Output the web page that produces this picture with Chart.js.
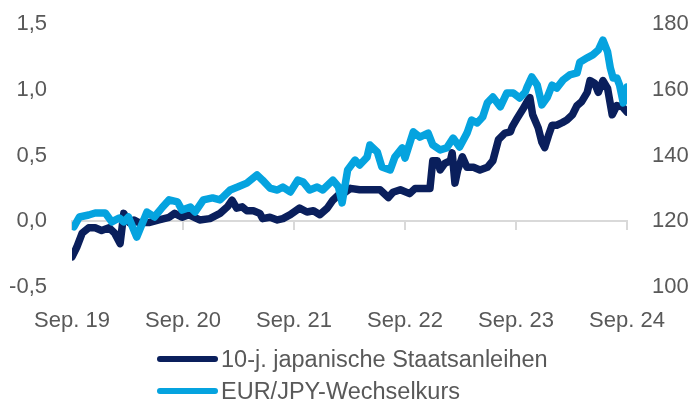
<!DOCTYPE html>
<html>
<head>
<meta charset="utf-8">
<script src="https://cdn.jsdelivr.net/npm/chart.js@4.4.1/dist/chart.umd.min.js"></script>
<style>
  html, body { margin: 0; padding: 0; background: #fff; }
  #wrap { position: relative; width: 694px; height: 403px; }
  #legend { position: absolute; left: 157px; top: 343px; font-family: "Liberation Sans", Arial, sans-serif; font-size: 23.5px; color: #595959; }
  .item { display: flex; align-items: center; height: 32px; }
  .swatch { width: 61px; height: 6px; border-radius: 3px; margin-right: 3px; }
</style>
</head>
<body>
<div id="wrap">
  <canvas id="chart" width="694" height="403"></canvas>
  <div id="legend"></div>
</div>
<script>
'use strict';

// x positions are months since Sep. 2019
const tickLabels = ['Sep. 19', 'Sep. 20', 'Sep. 21', 'Sep. 22', 'Sep. 23', 'Sep. 24'];

const jgbLabel = '10-j. japanische Staatsanleihen';
const jgbMonths = [0, 0.5, 1.1, 1.8, 2.5, 3.2, 4.0, 4.6, 5.2, 5.6, 6.2, 6.7, 7.2, 8.3, 9.4, 10.5, 11.1, 11.9, 12.6, 13.8,
    14.9, 16.0, 16.8, 17.3, 17.8, 18.4, 18.9, 19.6, 20.3, 20.6, 21.4, 22.2, 22.8, 23.6, 24.6, 25.4, 26.1, 26.8, 27.6, 28.2,
    28.8, 29.5, 30.1, 31.1, 32.2, 33.3, 34.2, 34.7, 35.5, 36.5, 37.1, 38.7, 38.9, 39.0, 39.5, 39.8, 40.3, 40.9, 41.1, 41.4,
    41.7, 42.2, 42.7, 43.4, 44.1, 44.9, 45.5, 46.1, 46.8, 47.4, 47.6, 48.1, 48.8, 49.3, 49.5, 49.8, 50.4, 50.8, 51.1, 51.5,
    51.9, 52.4, 53.0, 53.5, 54.1, 54.6, 55.1, 55.7, 56.0, 56.5, 56.9, 57.4, 57.9, 58.4, 58.9, 59.5, 60.0];
const jgbValues = [-0.27, -0.20, -0.09, -0.05, -0.05, -0.07, -0.05, -0.09, -0.17, 0.06, -0.01, 0.01, -0.01, -0.01, 0.01, 0.03, 0.06, 0.03, 0.05, 0.01,
    0.02, 0.06, 0.11, 0.16, 0.10, 0.11, 0.08, 0.08, 0.06, 0.02, 0.03, 0.01, 0.02, 0.05, 0.10, 0.07, 0.08, 0.05, 0.10, 0.16,
    0.20, 0.22, 0.25, 0.24, 0.24, 0.24, 0.18, 0.22, 0.24, 0.21, 0.25, 0.25, 0.39, 0.46, 0.46, 0.39, 0.44, 0.46, 0.52, 0.29,
    0.39, 0.49, 0.41, 0.41, 0.39, 0.41, 0.46, 0.62, 0.67, 0.68, 0.72, 0.78, 0.86, 0.92, 0.94, 0.81, 0.71, 0.60, 0.56, 0.65,
    0.73, 0.73, 0.75, 0.77, 0.81, 0.88, 0.91, 0.98, 1.07, 1.05, 0.98, 1.07, 1.01, 0.81, 0.88, 0.87, 0.83];

const fxLabel = 'EUR/JPY-Wechselkurs';
const fxMonths = [0.2, 0.8, 1.8, 2.5, 3.6, 4.3, 5.1, 5.6, 6.1, 7.0, 8.1, 8.9, 9.7, 10.5, 11.4, 11.9, 12.8, 13.3, 14.2, 15.2,
    16.0, 17.1, 17.9, 18.9, 20.0, 20.6, 21.4, 22.2, 22.8, 23.6, 24.4, 25.0, 25.7, 26.5, 27.1, 28.2, 28.8, 29.2, 29.8, 30.6,
    31.1, 31.9, 32.2, 33.0, 33.5, 34.4, 34.9, 35.7, 36.0, 36.9, 37.6, 38.5, 39.0, 39.8, 40.5, 41.2, 41.9, 42.7, 43.2, 43.8,
    44.4, 44.9, 45.5, 46.3, 47.0, 47.7, 48.4, 49.0, 49.2, 49.7, 50.3, 50.8, 51.4, 51.9, 52.4, 53.1, 53.8, 54.6, 54.9, 55.7,
    56.3, 56.9, 57.4, 57.9, 58.2, 58.5, 58.9, 59.2, 59.6, 60.0];
const fxValues = [118.3, 121.3, 121.9, 122.5, 122.5, 119.8, 121.0, 119.8, 121.3, 115.2, 122.8, 121.3, 124.0, 126.5, 125.9, 123.4, 124.3, 122.8, 126.5, 127.1,
    126.5, 129.5, 130.4, 131.6, 134.1, 132.5, 130.1, 129.5, 130.4, 128.9, 132.5, 131.9, 129.5, 130.4, 129.5, 132.5, 130.5, 125.6, 135.6, 138.6,
    137.1, 139.5, 143.2, 141.1, 136.5, 135.6, 139.5, 142.3, 139.2, 147.2, 145.6, 146.8, 143.2, 141.7, 142.3, 145.3, 142.6, 146.8, 150.8, 149.9,
    151.7, 156.0, 157.8, 154.8, 159.0, 159.0, 157.5, 159.3, 160.8, 163.9, 161.4, 155.4, 157.8, 161.4, 160.5, 163.0, 164.5, 165.1, 168.4, 169.7,
    170.6, 172.1, 175.1, 171.5, 166.6, 163.6, 163.6, 161.4, 156.0, 160.8];

const navy = '#0a1f5c';
const lightBlue = '#05a3df';
const textColor = '#595959';
const fontFamily = '"Liberation Sans", Arial, sans-serif';

function toPoints(xs, ys) {
    return xs.map(function (x, i) { return { x: x, y: ys[i] }; });
}

const lineStyle = {
    borderWidth: 7.5,
    pointRadius: 0,
    tension: 0,
    borderJoinStyle: 'round',
    borderCapStyle: 'round',
    fill: false
};

new Chart('chart', {
    type: 'line',
    data: {
        datasets: [
            Object.assign({ label: jgbLabel, data: toPoints(jgbMonths, jgbValues), borderColor: navy, yAxisID: 'y', xAxisID: 'x', order: 1 }, lineStyle),
            Object.assign({ label: fxLabel, data: toPoints(fxMonths, fxValues), borderColor: lightBlue, yAxisID: 'y1', xAxisID: 'x', order: 0 }, lineStyle)
        ]
    },
    options: {
        responsive: false,
        animation: false,
        layout: { padding: { top: 24, bottom: 68, left: 0, right: 0 } },
        plugins: { legend: { display: false }, tooltip: { enabled: false } },
        scales: {
            x: {
                type: 'linear',
                position: { y: 0 },
                min: 0,
                max: 60,
                ticks: { display: false, stepSize: 12 },
                grid: { drawOnChartArea: false, drawTicks: true, tickLength: 8, color: '#d9d9d9', lineWidth: 2 },
                border: { display: true, color: '#d9d9d9', width: 2 },
                // axis sits on the zero line, it should take no room in the layout
                afterFit: function (scale) { scale.height = 0; }
            },
            xl: {
                type: 'linear',
                position: 'bottom',
                min: 0,
                max: 60,
                grid: { display: false, drawTicks: false },
                border: { display: false },
                ticks: {
                    stepSize: 12,
                    padding: 21,
                    maxRotation: 0,
                    color: textColor,
                    font: { family: fontFamily, size: 22 },
                    callback: function (v) { return tickLabels[v / 12]; }
                },
                afterFit: function (scale) { scale.height = 48; }
            },
            y: {
                position: 'left',
                min: -0.5,
                max: 1.5,
                // invisible tick marks push the labels away from the plot
                grid: { display: false, drawTicks: true, tickLength: 25 },
                border: { display: false },
                ticks: {
                    stepSize: 0.5,
                    padding: 0,
                    color: textColor,
                    font: { family: fontFamily, size: 22 },
                    callback: function (v) { return v.toFixed(1).replace('.', ','); }
                },
                afterFit: function (scale) { scale.width = 72; }
            },
            y1: {
                position: 'right',
                min: 100,
                max: 180,
                grid: { display: false, drawTicks: true, tickLength: 25 },
                border: { display: false },
                ticks: {
                    stepSize: 20,
                    padding: 0,
                    color: textColor,
                    font: { family: fontFamily, size: 22 }
                },
                afterFit: function (scale) { scale.width = 67; }
            }
        }
    }
});

// legend: both rows left aligned like the original
const legendEl = document.getElementById('legend');
[[jgbLabel, navy], [fxLabel, lightBlue]].forEach(function (entry) {
    const row = document.createElement('div');
    row.className = 'item';
    const sw = document.createElement('span');
    sw.className = 'swatch';
    sw.style.background = entry[1];
    const txt = document.createElement('span');
    txt.textContent = entry[0];
    row.appendChild(sw);
    row.appendChild(txt);
    legendEl.appendChild(row);
});
</script>
</body>
</html>
